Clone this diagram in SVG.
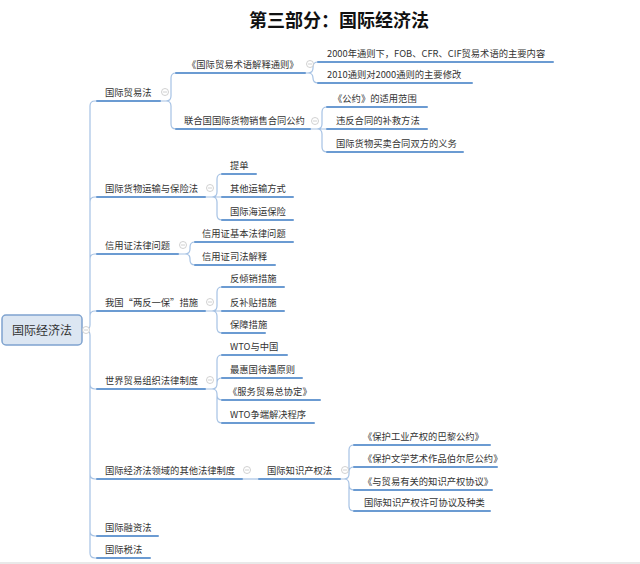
<svg xmlns="http://www.w3.org/2000/svg" width="640" height="564" viewBox="0 0 640 564">
<style>
text{font-family:"Noto Sans CJK SC","Microsoft YaHei",sans-serif;fill:#333;}
.t{font-size:9.3px;}
.title{font-size:18px;font-weight:bold;fill:#111;}
.u{stroke:#6b9bd2;stroke-width:2;fill:none;stroke-linecap:round;}
.c{stroke:#a6c2e4;stroke-width:1.2;fill:none;}
.col circle{fill:#fff;stroke:#c4c4c4;stroke-width:0.8;}
.col line{stroke:#c4c4c4;stroke-width:0.8;}
</style>
<defs>
<g id="minus" class="col"><circle cx="0" cy="0" r="3.5"/><line x1="-2" y1="0" x2="2" y2="0"/></g>
</defs>
<rect width="640" height="564" fill="#fff"/>
<text class="title" x="339" y="27" text-anchor="middle">第三部分：国际经济法</text>
<line x1="0" y1="563" x2="640" y2="563" stroke="#e2e2e2" stroke-width="1.5"/>

<g id="connectors">
<path class="c" d="M82 330 L85 330 Q90 330 90 325 L90 106 Q90 101 95 101 L97 101 M90 202 Q90 197 95 197 L97 197 M90 259 Q90 254 95 254 L97 254 M90 316 Q90 311 95 311 L97 311 M85 330 Q90 330 90 335 L90 553 Q90 558 95 558 L97 558 M90 384 Q90 389 95 389 L97 389 M90 474 Q90 479 95 479 L97 479 M90 531 Q90 536 95 536 L97 536"/>
<path class="c" d="M160 101 L166 101 Q171 101 171 96 L171 78 Q171 73 176 73 M166 101 Q171 101 171 106 L171 124 Q171 129 176 129"/>
<path class="c" d="M305 73 L308 73 Q313 73 313 68 L313 67 Q313 62 318 62 M308 73 Q313 73 313 78 Q313 83 318 83"/>
<path class="c" d="M310 129 L327 129 M317 129 Q322 129 322 124 L322 112 Q322 107 327 107 M317 129 Q322 129 322 134 L322 147 Q322 152 327 152"/>
<path class="c" d="M205 197 L222 197 M212 197 Q217 197 217 192 L217 179 Q217 174 222 174 M212 197 Q217 197 217 202 L217 215 Q217 220 222 220"/>
<path class="c" d="M178 254 L185 254 Q190 254 190 249 L190 247 Q190 242 195 242 M185 254 Q190 254 190 259 L190 260 Q190 265 195 265"/>
<path class="c" d="M205 311 L222 311 M212 311 Q217 311 217 306 L217 292 Q217 287 222 287 M212 311 Q217 311 217 316 L217 328 Q217 333 222 333"/>
<path class="c" d="M205 389 L212 389 Q217 389 217 384 L217 360 Q217 355 222 355 M217 383 Q217 378 222 378 M212 389 Q217 389 217 394 L217 418 Q217 423 222 423 M217 395 Q217 400 222 400"/>
<path class="c" d="M242 479 L259 479"/>
<path class="c" d="M340 479 L344 479 Q349 479 349 474 L349 450 Q349 445 354 445 M349 472 Q349 467 354 467 M344 479 Q349 479 349 484 L349 506 Q349 511 354 511 M349 485 Q349 490 354 490"/>
</g>

<g id="root">
<rect x="2" y="315" width="80" height="30" rx="4" fill="#dce6f2" stroke="#7fa3cf" stroke-width="1.5"/>
<text x="42" y="334.5" font-size="12" text-anchor="middle">国际经济法</text>
<use href="#minus" x="86" y="330"/>
</g>

<g id="n1"><text class="t" x="105" y="95.5">国际贸易法</text><path class="u" d="M97 101 H160"/><use href="#minus" x="165" y="92"/></g>
<g id="n1a"><text class="t" x="187" y="67.5">《国际贸易术语解释通则》</text><path class="u" d="M176 73 H305"/><use href="#minus" x="310" y="64"/></g>
<g id="n1a1"><text class="t" x="327" y="56.5">2000年通则下，FOB、CFR、CIF贸易术语的主要内容</text><path class="u" d="M318 62 H553"/></g>
<g id="n1a2"><text class="t" x="327" y="77.5">2010通则对2000通则的主要修改</text><path class="u" d="M318 83 H472"/></g>
<g id="n1b"><text class="t" x="184" y="123.5">联合国国际货物销售合同公约</text><path class="u" d="M176 129 H310"/><use href="#minus" x="315" y="121"/></g>
<g id="n1b1"><text class="t" x="333" y="101.5">《公约》的适用范围</text><path class="u" d="M327 107 H427"/></g>
<g id="n1b2"><text class="t" x="336" y="123.5">违反合同的补救方法</text><path class="u" d="M327 129 H427"/></g>
<g id="n1b3"><text class="t" x="336" y="146.5">国际货物买卖合同双方的义务</text><path class="u" d="M327 152 H463"/></g>

<g id="n2"><text class="t" x="105" y="191.5">国际货物运输与保险法</text><path class="u" d="M97 197 H205"/><use href="#minus" x="210" y="188"/></g>
<g id="n2a"><text class="t" x="230" y="168.5">提单</text><path class="u" d="M222 174 H256"/></g>
<g id="n2b"><text class="t" x="230" y="191.5">其他运输方式</text><path class="u" d="M222 197 H293"/></g>
<g id="n2c"><text class="t" x="230" y="214.5">国际海运保险</text><path class="u" d="M222 220 H293"/></g>

<g id="n3"><text class="t" x="105" y="248.5">信用证法律问题</text><path class="u" d="M97 254 H178"/><use href="#minus" x="183" y="245"/></g>
<g id="n3a"><text class="t" x="202" y="236.5">信用证基本法律问题</text><path class="u" d="M195 242 H293"/></g>
<g id="n3b"><text class="t" x="202" y="259.5">信用证司法解释</text><path class="u" d="M195 265 H275"/></g>

<g id="n4"><text class="t" x="105" y="305.5">我国“两反一保”措施</text><path class="u" d="M97 311 H205"/><use href="#minus" x="210" y="302"/></g>
<g id="n4a"><text class="t" x="230" y="281.5">反倾销措施</text><path class="u" d="M222 287 H284"/></g>
<g id="n4b"><text class="t" x="230" y="305.5">反补贴措施</text><path class="u" d="M222 311 H284"/></g>
<g id="n4c"><text class="t" x="230" y="327.5">保障措施</text><path class="u" d="M222 333 H265"/></g>

<g id="n5"><text class="t" x="105" y="383.5">世界贸易组织法律制度</text><path class="u" d="M97 389 H205"/><use href="#minus" x="210" y="380"/></g>
<g id="n5a"><text class="t" x="230" y="349.5">WTO与中国</text><path class="u" d="M222 355 H287"/></g>
<g id="n5b"><text class="t" x="230" y="372.5">最惠国待遇原则</text><path class="u" d="M222 378 H302"/></g>
<g id="n5c"><text class="t" x="228" y="394.5">《服务贸易总协定》</text><path class="u" d="M222 400 H320"/></g>
<g id="n5d"><text class="t" x="230" y="417.5">WTO争端解决程序</text><path class="u" d="M222 423 H314"/></g>

<g id="n6"><text class="t" x="105" y="473.5">国际经济法领域的其他法律制度</text><path class="u" d="M97 479 H242"/><use href="#minus" x="247" y="470"/></g>
<g id="n6a"><text class="t" x="267" y="473.5">国际知识产权法</text><path class="u" d="M259 479 H340"/><use href="#minus" x="345" y="470"/></g>
<g id="n6a1"><text class="t" x="363" y="439.5">《保护工业产权的巴黎公约》</text><path class="u" d="M354 445 H490"/></g>
<g id="n6a2"><text class="t" x="363" y="461.5">《保护文学艺术作品伯尔尼公约》</text><path class="u" d="M354 467 H497"/></g>
<g id="n6a3"><text class="t" x="363" y="484.5">《与贸易有关的知识产权协议》</text><path class="u" d="M354 490 H492"/></g>
<g id="n6a4"><text class="t" x="364" y="505.5">国际知识产权许可协议及种类</text><path class="u" d="M354 511 H490"/></g>

<g id="n7"><text class="t" x="105" y="530.5">国际融资法</text><path class="u" d="M97 536 H158"/></g>
<g id="n8"><text class="t" x="105" y="552.5">国际税法</text><path class="u" d="M97 558 H150"/></g>
</svg>
